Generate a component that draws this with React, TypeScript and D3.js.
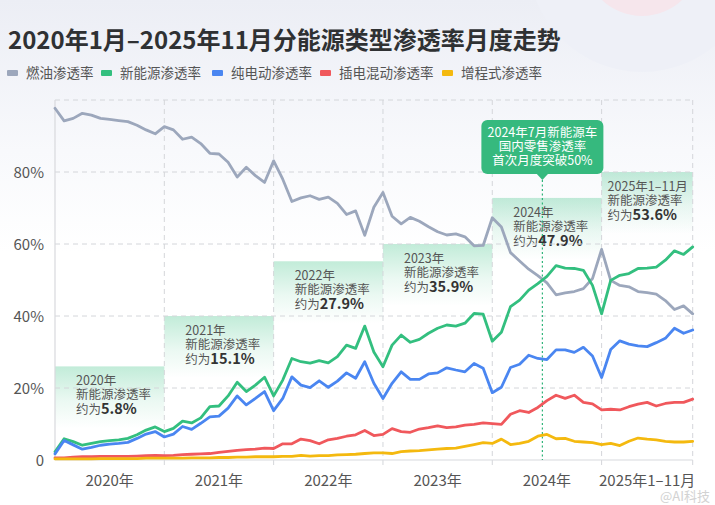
import React from "react";
import * as d3 from "d3";

const W = 715;
const H = 505;

// ---- data (month index 0 = 2020-01 ... 70 = 2025-11) ----
const fuelRate = [
  97.7, 94.2, 94.9, 96.3, 95.8, 94.9, 94.6, 94.3, 94.0, 93.0, 91.7, 90.6,
  92.6, 91.7, 89.1, 89.7, 87.9, 85.2, 85.0, 82.7, 78.6, 81.3, 79.0, 77.1,
  83.1, 78.0, 71.8, 72.8, 73.4, 72.4, 73.0, 71.3, 68.2, 69.2, 62.4, 70.2,
  74.3, 67.7, 65.6, 67.4, 66.3, 64.8, 63.4, 62.5, 62.8, 62.0, 59.5, 59.6,
  67.3, 64.7, 57.6, 55.3, 53.0, 51.2, 49.2, 45.9, 46.4, 46.8, 47.6, 50.4,
  58.5, 49.9, 48.5, 48.1, 46.8, 46.5, 46.1, 44.3, 41.8, 42.8, 40.6,
];
const nevRate = [
  2.3, 5.9, 5.1, 4.1, 4.6, 5.1, 5.4, 5.6, 6.0, 7.0, 8.3, 9.2,
  7.9, 8.8, 10.8, 10.3, 11.7, 14.8, 15.0, 17.8, 21.6, 19.0, 20.8, 23.0,
  17.8, 22.2, 28.2, 27.3, 26.9, 27.6, 27.0, 28.7, 31.9, 31.0, 37.2, 30.0,
  25.9, 31.9, 34.7, 32.7, 33.5, 35.2, 36.6, 37.5, 37.2, 38.0, 40.7, 40.5,
  33.0, 35.5, 42.6, 44.4, 47.2, 49.0, 51.0, 54.0, 53.3, 53.2, 52.7, 48.5,
  40.6, 49.9, 51.3, 51.8, 53.2, 53.3, 53.6, 55.5, 58.1, 57.1, 59.2,
];
const bevRate = [
  1.7, 5.4, 4.2, 3.0, 3.5, 4.1, 4.4, 4.6, 4.9, 6.0, 7.2, 7.9,
  6.4, 7.2, 9.3, 8.5, 10.2, 12.0, 12.2, 14.4, 17.8, 15.3, 17.1, 19.0,
  13.7, 17.1, 23.1, 20.8, 20.1, 22.0, 20.2, 21.9, 24.2, 22.7, 27.3, 21.3,
  17.1, 21.3, 24.5, 22.4, 22.4, 23.9, 24.2, 25.6, 25.0, 24.5, 26.8, 25.5,
  18.7, 20.2, 25.7, 26.6, 29.1, 28.2, 27.9, 30.6, 30.6, 29.9, 31.3, 28.9,
  22.9, 30.7, 33.1, 32.2, 31.7, 31.5, 32.6, 33.8, 36.6, 35.2, 36.1,
];
const phevRate = [
  0.6, 0.6, 0.8, 0.9, 0.9, 1.0, 1.0, 1.0, 1.0, 1.1, 1.2, 1.3,
  1.2, 1.3, 1.5, 1.6, 1.7, 1.8, 2.1, 2.4, 2.7, 2.9, 3.0, 3.3,
  3.2, 4.5, 4.5, 5.8, 5.4, 4.5, 5.6, 6.0, 6.6, 7.0, 8.2, 6.8,
  7.1, 8.7, 7.9, 7.7, 8.6, 9.0, 9.5, 9.0, 9.2, 9.7, 9.9, 10.3,
  10.1, 9.9, 12.7, 13.7, 13.2, 14.6, 16.5, 18.0, 17.1, 18.0, 16.0, 15.6,
  13.9, 14.1, 13.9, 14.8, 15.5, 16.0, 15.0, 15.7, 16.0, 16.0, 16.9,
];
const erevRate = [
  0.3, 0.3, 0.3, 0.3, 0.3, 0.4, 0.4, 0.4, 0.4, 0.4, 0.5, 0.5,
  0.5, 0.5, 0.5, 0.6, 0.6, 0.6, 0.7, 0.7, 0.8, 0.8, 0.9, 0.9,
  0.9, 1.0, 1.0, 1.3, 1.1, 1.2, 1.2, 1.4, 1.5, 1.6, 1.8, 2.0,
  2.0, 1.8, 2.3, 2.5, 2.6, 2.8, 3.0, 3.2, 3.3, 3.8, 4.3, 4.8,
  4.6, 5.8, 4.3, 4.6, 5.2, 6.6, 7.1, 5.9, 6.0, 5.2, 5.0, 4.8,
  4.3, 4.6, 4.0, 5.2, 6.1, 5.8, 5.6, 5.2, 5.0, 5.0, 5.2,
];

const seriesNames = ["燃油渗透率", "新能源渗透率", "纯电动渗透率", "插电混动渗透率", "增程式渗透率"];
const seriesColors = ["#9ca7bc", "#33bf7f", "#4a86f1", "#f0585c", "#f4b90f"];
const seriesData = [fuelRate, nevRate, bevRate, phevRate, erevRate];

const yTicks = [0, 20, 40, 60, 80];
const yGrid = [20, 40, 60, 80, 100];
const yearLabels = ["2020年", "2021年", "2022年", "2023年", "2024年", "2025年1–11月"];
const yearStart = [0, 12, 24, 36, 48, 60];
const yearEnd = [12, 24, 36, 48, 60, 70];

const annoYear = ["2020年", "2021年", "2022年", "2023年", "2024年", "2025年1–11月"];
const annoValue = ["5.8%", "15.1%", "27.9%", "35.9%", "47.9%", "53.6%"];
const annoLevel = [26, 40, 55.2, 60, 72.8, 80];

const calloutLines = ["2024年7月新能源车", "国内零售渗透率", "首次月度突破50%"];
const calloutMonth = 53.5;

const FONT = "'Noto Sans CJK SC', 'Noto Sans', sans-serif";

export default function App() {
  const x = d3.scaleLinear().domain([0, 70]).range([55, 692.7]);
  const y = d3.scaleLinear().domain([0, 100]).range([460, 100]);
  const line = d3
    .line<number>()
    .x((_, i) => x(i))
    .y((d) => y(d));

  const legendX = [7, 101, 212, 320, 442];
  const cx = x(calloutMonth);

  return (
    <svg
      width={W}
      height={H}
      viewBox={`0 0 ${W} ${H}`}
      style={{ position: "fixed", left: 0, top: 0, fontFamily: FONT }}
    >
      <defs>
        <linearGradient id="bg" x1="0" y1="0" x2="0" y2="1">
          <stop offset="0" stopColor="#eceef5" />
          <stop offset="0.3" stopColor="#f8f9fc" />
          <stop offset="0.5" stopColor="#ffffff" />
          <stop offset="1" stopColor="#ffffff" />
        </linearGradient>
        <linearGradient id="annoGrad" x1="0" y1="0" x2="0" y2="1">
          <stop offset="0" stopColor="#33bf7f" stopOpacity={0.3} />
          <stop offset="0.55" stopColor="#33bf7f" stopOpacity={0.1} />
          <stop offset="1" stopColor="#33bf7f" stopOpacity={0} />
        </linearGradient>
      </defs>

      <rect x={0} y={0} width={W} height={H} fill="url(#bg)" />
      <circle cx={642} cy={-42} r={114} fill="#eef0f7" />
      <circle cx={642} cy={-42} r={58} fill="#f6e6ec" />

      <text x={8} y={49} fontSize={24} fontWeight={700} fill="#2f3133">
        2020年1月–2025年11月分能源类型渗透率月度走势
      </text>

      {seriesNames.map((n, i) => (
        <g key={n}>
          <rect x={legendX[i]} y={70} width={11} height={6} rx={1} fill={seriesColors[i]} />
          <text x={legendX[i] + 19} y={78} fontSize={13.5} fill="#555">
            {n}
          </text>
        </g>
      ))}

      {annoYear.map((t, i) => {
        const x0 = x(yearStart[i]);
        const x1 = x(yearEnd[i]);
        const top = y(annoLevel[i]);
        const tx = x0 + (i === 5 ? 6 : 21);
        return (
          <g key={t}>
            <rect x={x0} y={top} width={x1 - x0} height={62} fill="url(#annoGrad)" />
            <text x={tx} y={top + 19} fontSize={12.5} fill="#555">
              <tspan x={tx}>{t}</tspan>
              <tspan x={tx} dy={14}>
                新能源渗透率
              </tspan>
              <tspan x={tx} dy={15}>
                约为
              </tspan>
              <tspan fontSize={14.5} fontWeight={700} fill="#333">
                {annoValue[i]}
              </tspan>
            </text>
          </g>
        );
      })}

      {yGrid.map((v) => (
        <line
          key={v}
          x1={x(0)}
          x2={x(70)}
          y1={y(v)}
          y2={y(v)}
          stroke="#d4d6da"
          strokeDasharray="5,4"
          strokeWidth={1}
        />
      ))}
      {[12, 24, 36, 48, 60, 70].map((m) => (
        <line
          key={m}
          x1={x(m)}
          x2={x(m)}
          y1={y(100)}
          y2={y(0) + 5}
          stroke="#d4d6da"
          strokeDasharray="5,4"
          strokeWidth={1}
        />
      ))}
      <line x1={x(0)} x2={x(0)} y1={y(100)} y2={y(0)} stroke="#d8d9dd" strokeWidth={1.2} />
      <line x1={x(0)} x2={x(70)} y1={y(0)} y2={y(0)} stroke="#d8d9dd" strokeWidth={1.2} />

      {yTicks.map((v) => (
        <text key={v} x={44} y={y(v) + 5.5} fontSize={15} fill="#555" textAnchor="end">
          {v === 0 ? "0" : `${v}%`}
        </text>
      ))}

      {yearLabels.map((t, i) => (
        <text
          key={t}
          x={(x(yearStart[i]) + x(yearEnd[i])) / 2}
          y={486}
          fontSize={15}
          fill="#555"
          textAnchor="middle"
        >
          {t}
        </text>
      ))}

      <line
        x1={cx}
        x2={cx}
        y1={180}
        y2={y(0)}
        stroke="#2fb57a"
        strokeWidth={1.2}
        strokeDasharray="2,2.5"
      />

      {seriesData.map((d, i) => (
        <path
          key={seriesNames[i]}
          d={line(d) || ""}
          fill="none"
          stroke={seriesColors[i]}
          strokeWidth={2.8}
          strokeLinejoin="round"
          strokeLinecap="round"
        />
      ))}

      <g>
        <rect x={cx - 61} y={120} width={122} height={54} rx={6} fill="#36b97e" />
        <path d={`M${cx - 6},173.5 L${cx},180 L${cx + 6},173.5 Z`} fill="#36b97e" />
        <text x={cx} y={137} fontSize={12.5} fill="#ffffff" textAnchor="middle">
          {calloutLines.map((t, i) => (
            <tspan key={t} x={cx} dy={i === 0 ? 0 : 13.8}>
              {t}
            </tspan>
          ))}
        </text>
      </g>

      <text x={660} y={501} fontSize={13} fill="#c8c8c8" opacity={0.8}>
        @AI科技
      </text>
    </svg>
  );
}
